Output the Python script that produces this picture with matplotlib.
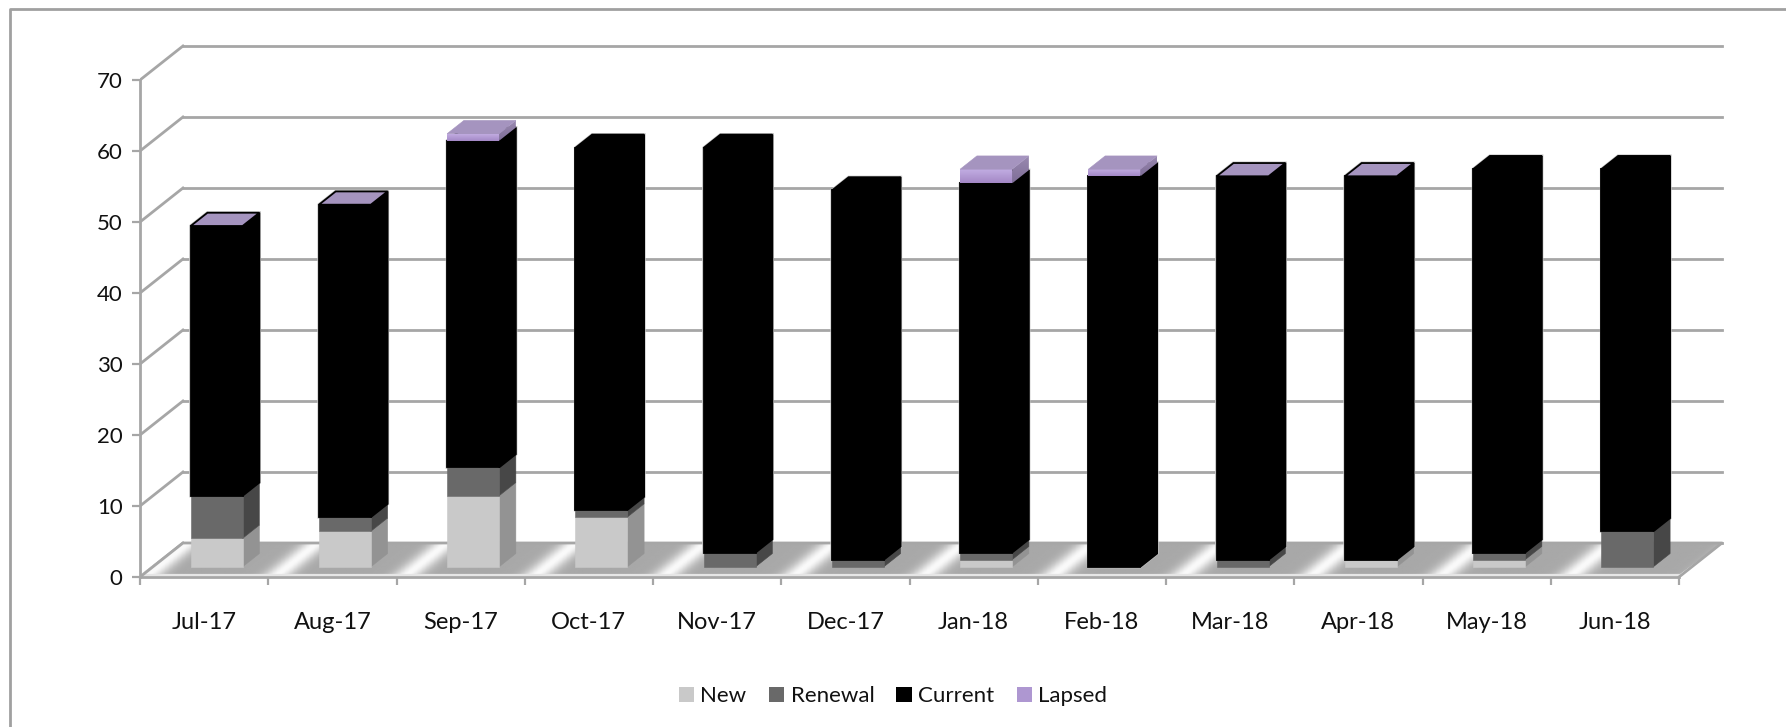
import numpy as np
import matplotlib
matplotlib.use('Agg')
from matplotlib import pyplot as plt
from matplotlib.lines import Line2D
from matplotlib.patches import Patch, Polygon

months = ['Jul-17', 'Aug-17', 'Sep-17', 'Oct-17', 'Nov-17', 'Dec-17',
          'Jan-18', 'Feb-18', 'Mar-18', 'Apr-18', 'May-18', 'Jun-18']
new_vals = [4, 5, 10, 7, 0, 0, 1, 0, 0, 1, 1, 0]
renewal_vals = [6, 2, 4, 1, 2, 1, 1, 0, 1, 0, 1, 5]
current_vals = [38, 44, 46, 51, 57, 52, 52, 55, 54, 54, 54, 51]
# None = no lapsed record at all (black lid), 0 = empty segment (purple lid)
lapsed_vals = [0, 0, 1, None, None, None, 2, 1, 0, 0, None, None]
yticks = [0, 10, 20, 30, 40, 50, 60, 70]

W, H = 1786, 727
# oblique projection of the 3D box, in data units
DEPTH_X = 0.335
DEPTH_Y = 4.79
Z0, Z1 = 0.3, 0.69
GREY = '#a6a6a6'


def project(x, y, z):
    return (x + z * DEPTH_X, y + z * DEPTH_Y)


def gradient_poly(ax, verts, top, bottom, zorder):
    xs = [v[0] for v in verts]
    ys = [v[1] for v in verts]
    c1 = np.array(matplotlib.colors.to_rgb(top))
    c2 = np.array(matplotlib.colors.to_rgb(bottom))
    t = np.linspace(0, 1, 32)[:, None, None]
    img = c1[None, None, :] * (1 - t) + c2[None, None, :] * t
    im = ax.imshow(img, extent=(min(xs), max(xs), min(ys), max(ys)),
                   aspect='auto', origin='upper', zorder=zorder)
    im.set_clip_path(Polygon(verts, closed=True, transform=ax.transData))


def box(ax, x0, x1, y0, y1, front, side, lid, zorder, edge=None, lw=0.0):
    face = [project(x0, y0, Z0), project(x1, y0, Z0), project(x1, y1, Z0), project(x0, y1, Z0)]
    right = [project(x1, y0, Z0), project(x1, y0, Z1), project(x1, y1, Z1), project(x1, y1, Z0)]
    cap = [project(x0, y1, Z0), project(x1, y1, Z0), project(x1, y1, Z1), project(x0, y1, Z1)]
    for verts, col in ((right, side), (face, front)):
        if isinstance(col, tuple):
            gradient_poly(ax, verts, col[0], col[1], zorder)
        else:
            ax.add_patch(Polygon(verts, closed=True, fc=col, ec=edge or col,
                                 lw=lw if edge else 0.4, zorder=zorder))
    if lid is not None:
        ax.add_patch(Polygon(cap, closed=True, fc=lid, ec=edge or lid,
                             lw=lw if edge else 0.4, zorder=zorder + 0.1))


fig = plt.figure(figsize=(W / 100, H / 100), dpi=100)
plt.rcParams['font.family'] = ['Lato', 'DejaVu Sans']
# chart frame: only the top and left edges fall inside the picture
fig.add_artist(Line2D([10 / W, 10 / W, 1], [0, 1 - 9 / H, 1 - 9 / H], transform=fig.transFigure,
                      color='#a0a0a0', lw=2.0, zorder=-1))

unit_x = 128.25
unit_y = 7.1
ax = fig.add_axes([140 / W, 1 - 577 / H, 1590 / W, 537 / H])
ax.set_xlim(0, 1590 / unit_x)
ax.set_ylim(0, 537 / unit_y)
ax.patch.set_alpha(0)

# back wall and side wall gridlines
for v in yticks:
    p = project(0, v, 1)
    ax.plot([0, p[0]], [v, p[1]], color=GREY, lw=2.0, zorder=1)
    ax.plot([p[0], project(12, v, 1)[0]], [p[1], p[1]], color=GREY, lw=2.0, zorder=1)

# floor with the diagonal sheen
n = len(months)
floor = [(0, 0.3), (n, 0.3), project(n, 0, 1), project(0, 0, 1)]
gx = np.linspace(0, n + DEPTH_X, 1200)
gy = np.linspace(0, DEPTH_Y, 60)
xx, yy = np.meshgrid(gx, gy)
u = xx - yy / DEPTH_Y * DEPTH_X
d = (u - 1.05 + 0.505) % 1.01 - 0.505
sheen = np.exp(-(d / 0.11) ** 2)
shade = 0.66 + 0.32 * sheen
floor_img = ax.imshow(shade, extent=(0, n + DEPTH_X, 0, DEPTH_Y), origin='lower', aspect='auto',
                      cmap='gray', vmin=0, vmax=1, zorder=2)
floor_img.set_clip_path(Polygon(floor, closed=True, transform=ax.transData))
ax.plot([0, n], [0.3, 0.3], color='#e6e6e6', lw=1.6, zorder=2.1)
back_l, back_r = project(0, 0, 1), project(n, 0, 1)
ax.plot([0, back_l[0], back_r[0], n], [0, back_l[1], back_r[1], 0], color=GREY, lw=2.0, zorder=2.1)

# stacked boxes, drawn bottom up inside each month
for i in range(n):
    x0 = i + 0.395 - Z0 * DEPTH_X
    x1 = x0 + 0.405
    zo = 3 + i
    y = 0
    if new_vals[i] > 0:
        box(ax, x0, x1, y, y + new_vals[i], '#c9c9c9', '#939393', None, zo)
        y += new_vals[i]
    if renewal_vals[i] > 0:
        box(ax, x0, x1, y, y + renewal_vals[i], '#696969', '#474747', None, zo + 0.2)
        y += renewal_vals[i]
    lapsed = lapsed_vals[i]
    lid = 'black' if lapsed is None else '#a594bf'
    # thin grey halo round the black part
    y1 = y + current_vals[i]
    halo = [project(x0, y, Z0), project(x1, y, Z0), project(x1, y, Z1), project(x1, y1, Z1),
            project(x0, y1, Z1), project(x0, y1, Z0)]
    ax.add_patch(Polygon(halo, closed=True, fc='none', ec='#c4c4c4', lw=2.2, zorder=zo - 0.1))
    box(ax, x0, x1, y, y1, 'black', 'black', lid, zo + 0.4, edge='black', lw=1.3)
    y = y1
    if lapsed:
        box(ax, x0, x1, y, y + lapsed, ('#c4b0e4', '#a488c6'), ('#9a8ab0', '#7f6e98'), '#a594bf', zo + 0.6)

ax.set_xticks(range(n + 1))
ax.set_xticklabels([])
ax.set_xticks(np.arange(n) + 0.5, minor=True)
ax.set_xticklabels(months, minor=True)
ax.set_yticks(yticks)
ax.tick_params(axis='x', which='major', color=GREY, length=6, width=1.6)
ax.tick_params(axis='x', which='minor', length=0, pad=25.5, labelsize=17, labelcolor='#111111')
ax.tick_params(axis='y', color=GREY, length=5.5, width=1.6, pad=7, labelsize=16, labelcolor='#111111')
for s in ('top', 'right'):
    ax.spines[s].set_visible(False)
ax.spines['left'].set_bounds(0, 70)
ax.spines['bottom'].set_bounds(0, n)
for s in ('left', 'bottom'):
    ax.spines[s].set_color(GREY)
    ax.spines[s].set_linewidth(2.0)

handles = [Patch(fc='#c9c9c9', label='New'), Patch(fc='#696969', label='Renewal'),
           Patch(fc='black', label='Current'), Patch(fc='#ae97d1', label='Lapsed')]
fig.legend(handles=handles, ncol=4, loc='center', bbox_to_anchor=(893 / W, 1 - 696 / H),
           frameon=False, fontsize=16, handlelength=0.68, handleheight=0.68,
           handletextpad=0.3, columnspacing=1.0, labelcolor='#111111')

fig.savefig('out.png', dpi=100)
